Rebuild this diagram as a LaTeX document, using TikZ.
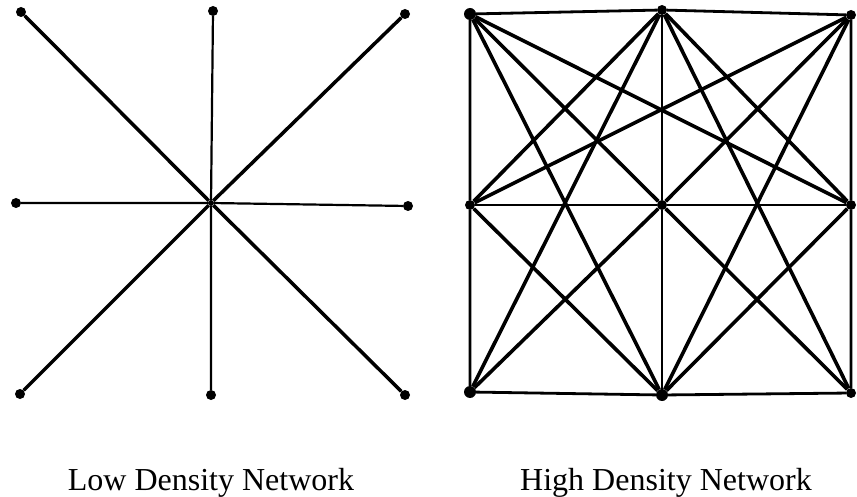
\documentclass[tikz,border=0pt]{standalone}
\usepackage{fontspec}
\setmainfont{Liberation Serif}
\begin{document}
\begin{tikzpicture}[x=1pt,y=-1pt,
  dot/.style={circle,fill=black,inner sep=0pt,minimum size=10pt},
  bigdot/.style={circle,fill=black,inner sep=0pt,minimum size=12pt},
  hv/.style={line width=2.2pt},
  dg/.style={line width=3.5pt},
  hd/.style={line width=3.6pt},
  bd/.style={line width=2.8pt},
  lbl/.style={anchor=base,font=\fontsize{32}{36}\selectfont,inner sep=0pt}]
\useasboundingbox (0,0) rectangle (857,497);
% Low density
\node[dot] (aTL) at (21,12) {};
\node[dot] (aTM) at (213,11) {};
\node[dot] (aTR) at (405,14) {};
\node[dot] (aML) at (16,203) {};
\node[circle,fill=black,inner sep=0pt,minimum size=6pt] (aC) at (211,203) {};
\node[dot] (aMR) at (408,206) {};
\node[dot] (aBL) at (20,394) {};
\node[dot] (aBM) at (211,395) {};
\node[dot] (aBR) at (405,395) {};
\draw[hv] (aTM) -- (aC) -- (aBM);
\draw[hv] (aML) -- (aC) -- (aMR);
\draw[dg] (aTL) -- (aC) -- (aBR);
\draw[dg] (aTR) -- (aC) -- (aBL);
% High density
\node[bigdot] (bTL) at (470,14) {};
\node[dot] (bTM) at (662,10) {};
\node[dot] (bTR) at (851,15) {};
\node[dot] (bML) at (470,205) {};
\node[dot] (bC) at (662,205) {};
\node[dot] (bMR) at (851,205) {};
\node[bigdot] (bBL) at (470,392) {};
\node[bigdot] (bBM) at (662,395) {};
\node[dot] (bBR) at (851,393) {};
\draw[bd] (bTL) -- (bTM) -- (bTR) -- (bMR) -- (bBR) -- (bBM) -- (bBL) -- (bML) -- (bTL);
\draw[bd] (bML) -- (bC) -- (bMR);
\draw[bd] (bTM) -- (bC) -- (bBM);
\draw[hd] (bTL) -- (bC) -- (bBR);
\draw[hd] (bTR) -- (bC) -- (bBL);
\draw[hd] (bTL) -- (bMR);
\draw[hd] (bTR) -- (bML);
\draw[hd] (bTL) -- (bBM);
\draw[hd] (bTR) -- (bBM);
\draw[hd] (bBL) -- (bTM);
\draw[hd] (bBR) -- (bTM);
\draw[hd] (bTM) -- (bML);
\draw[hd] (bTM) -- (bMR);
\draw[hd] (bBM) -- (bML);
\draw[hd] (bBM) -- (bMR);
% Labels
\node[lbl] (lowlbl) at (211,490) {Low Density Network};
\node[lbl] (highlbl) at (666,490) {High Density Network};
\end{tikzpicture}
\end{document}
